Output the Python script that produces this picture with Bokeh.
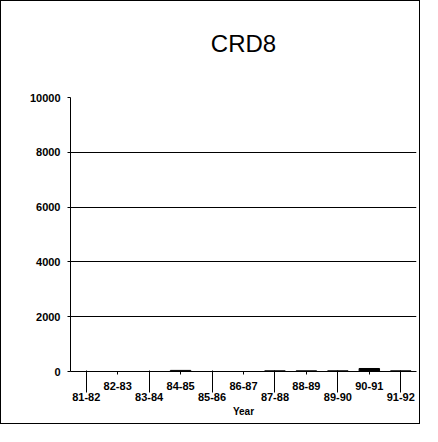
from bokeh.plotting import figure
from bokeh.models import Range1d, LinearAxis, FixedTicker, Title
from bokeh.embed import file_html
from bokeh.resources import INLINE

title = "CRD8"
years = ["81-82", "82-83", "83-84", "84-85", "85-86", "86-87",
         "87-88", "88-89", "89-90", "90-91", "91-92"]
values = [0, 0, 0, 40, 0, 0, 25, 25, 25, 110, 25]
y_ticks = [0, 2000, 4000, 6000, 8000, 10000]

idx = list(range(len(years)))
upper = [i for i in idx if i % 2 == 1]
lower = [i for i in idx if i % 2 == 0]

FONT = "Liberation Sans"

p = figure(width=420, height=424, output_backend="svg", toolbar_location=None,
           x_range=Range1d(-0.5, len(years) - 0.5), y_range=Range1d(0, y_ticks[-1]),
           min_border_left=69, min_border_right=5, min_border_top=96,
           min_border_bottom=54, outline_line_color=None,
           background_fill_color="white", border_fill_color="white")
p.styles = {"border": "1px solid black"}

# empty spacer between the plot area and the title, lifting the title
spacer = Title(text=" ", text_font_size="1px", standoff=12)
p.add_layout(spacer, "above")

p.title.text = title
p.title.align = "center"
p.title.text_font = FONT
p.title.text_font_size = "24px"
p.title.text_font_style = "normal"
p.title.text_color = "black"
p.title.standoff = 52

p.vbar(x=idx, top=values, width=0.65, fill_color="black", line_color="black")

p.xgrid.visible = False
p.ygrid.grid_line_color = "black"
p.ygrid.grid_line_width = 1
p.ygrid.ticker = FixedTicker(ticks=y_ticks)

# y axis
ya = p.yaxis[0]
ya.ticker = FixedTicker(ticks=y_ticks)
ya.axis_line_color = "black"
ya.major_tick_line_color = "black"
ya.major_tick_out = 3
ya.major_tick_in = 0
ya.minor_tick_line_color = None
ya.major_label_text_font = FONT
ya.major_label_text_font_style = "bold"
ya.major_label_text_font_size = "11px"
ya.major_label_text_color = "black"
ya.major_label_standoff = 7

# x axis, upper labels
xa = p.xaxis[0]
xa.ticker = FixedTicker(ticks=upper)
xa.major_label_overrides = {i: years[i] for i in upper}
xa.axis_line_color = "black"
xa.major_tick_line_color = "black"
xa.major_tick_out = 3
xa.major_tick_in = 0
xa.minor_tick_line_color = None
xa.major_label_text_font = FONT
xa.major_label_text_font_style = "bold"
xa.major_label_text_font_size = "11px"
xa.major_label_text_color = "black"
xa.major_label_standoff = 7

# x axis, lower labels
xb = LinearAxis(ticker=FixedTicker(ticks=lower),
                major_label_overrides={i: years[i] for i in lower},
                axis_line_color=None, major_tick_line_color="black",
                major_tick_in=22, major_tick_out=0,
                minor_tick_line_color=None,
                major_label_text_font=FONT, major_label_text_font_style="bold",
                major_label_text_font_size="11px", major_label_text_color="black",
                major_label_standoff=0,
                axis_label="Year", axis_label_text_font=FONT,
                axis_label_text_font_style="bold", axis_label_text_font_size="10px",
                axis_label_text_color="black", axis_label_standoff=2)
p.add_layout(xb, "below")

open("out.html", "w").write(file_html(p, INLINE))
